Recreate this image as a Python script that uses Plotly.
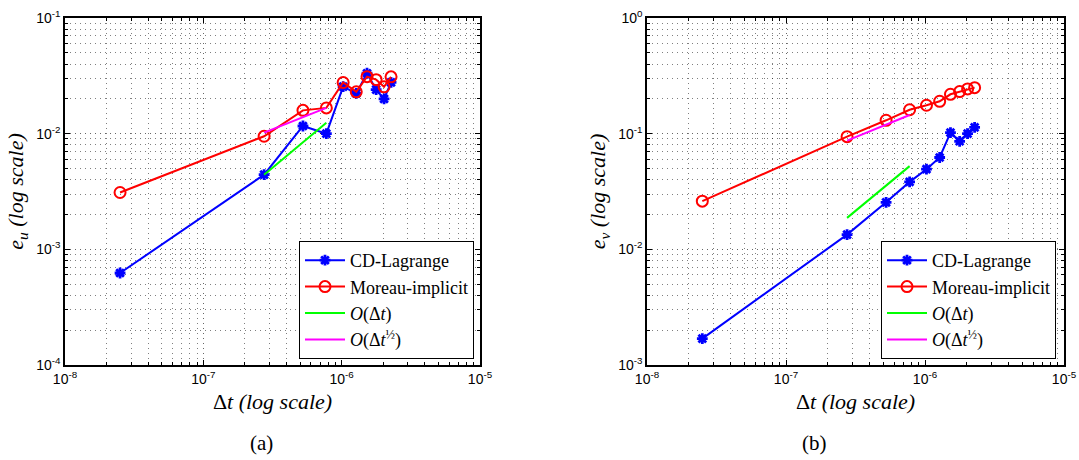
import plotly.graph_objects as go

# ---- data ----
dt = [2.5e-8, 2.75e-7, 5.25e-7, 7.75e-7, 1.025e-6, 1.275e-6, 1.525e-6, 1.775e-6, 2.025e-6, 2.275e-6]

eu_cd = [6.24e-4, 4.42e-3, 1.165e-2, 1.0e-2, 2.55e-2, 2.23e-2, 3.33e-2, 2.40e-2, 2.0e-2, 2.78e-2]
eu_mo = [3.1e-3, 9.5e-3, 1.59e-2, 1.67e-2, 2.77e-2, 2.30e-2, 3.11e-2, 2.93e-2, 2.54e-2, 3.10e-2]

ev_cd = [1.69e-3, 1.34e-2, 2.55e-2, 3.83e-2, 4.93e-2, 6.22e-2, 1.02e-1, 8.59e-2, 1.0e-1, 1.135e-1]
ev_mo = [2.61e-2, 9.42e-2, 1.305e-1, 1.61e-1, 1.76e-1, 1.905e-1, 2.19e-1, 2.31e-1, 2.436e-1, 2.50e-1]

ref_x = [2.75e-7, 7.75e-7]
eu_order1 = [4.42e-3, 1.245e-2]
eu_orderhalf = [1.02e-2, 1.67e-2]
ev_order1 = [1.87e-2, 5.24e-2]
ev_orderhalf = [8.7e-2, 1.45e-1]

x_exps = [-8, -7, -6, -5]
yu_exps = [-4, -3, -2, -1]
yv_exps = [-3, -2, -1, 0]
minor_digits = [2, 3, 4, 5, 6, 7, 8, 9]

names = ["CD-Lagrange", "Moreau-implicit",
         "<i>O</i>(Δ<i>t</i>)", "<i>O</i>(Δ<i>t</i><sup>½</sup>)"]

BLUE, RED, GREEN, MAG = "#0000ff", "#ff0000", "#00ff00", "#ff00ff"
SERIF = "Liberation Serif"

fig = go.Figure()

def add_panel(xa, ya, leg, cd, mo, o1, oh):
    fig.add_trace(go.Scatter(x=dt, y=cd, mode="lines+markers", name=names[0],
                             line=dict(color=BLUE, width=2),
                             marker=dict(symbol="asterisk-open", size=9, color=BLUE,
                                         line=dict(color=BLUE, width=2.8)),
                             xaxis=xa, yaxis=ya, legend=leg))
    fig.add_trace(go.Scatter(x=dt, y=mo, mode="lines+markers", name=names[1],
                             line=dict(color=RED, width=2),
                             marker=dict(symbol="circle-open", size=11, color=RED,
                                         line=dict(color=RED, width=2)),
                             xaxis=xa, yaxis=ya, legend=leg))
    fig.add_trace(go.Scatter(x=ref_x, y=o1, mode="lines", name=names[2],
                             line=dict(color=GREEN, width=2),
                             xaxis=xa, yaxis=ya, legend=leg))
    fig.add_trace(go.Scatter(x=ref_x, y=oh, mode="lines", name=names[3],
                             line=dict(color=MAG, width=2),
                             xaxis=xa, yaxis=ya, legend=leg))

add_panel("x", "y", "legend", eu_cd, eu_mo, eu_order1, eu_orderhalf)
add_panel("x2", "y2", "legend2", ev_cd, ev_mo, ev_order1, ev_orderhalf)

TICKFONT = dict(family="Liberation Sans", size=14, color="black")
TITLEFONT = dict(family=SERIF, size=22, color="black")

def pow_ticks(exps):
    return dict(tickmode="array", tickvals=[10.0 ** e for e in exps],
                ticktext=["10<sup>%d</sup>" % e for e in exps])

def minor_vals(exps):
    return [d * 10.0 ** e for e in exps[:-1] for d in minor_digits]

def axis_common(exps, **kw):
    d = dict(type="log", showline=True, linecolor="black", linewidth=1.5, mirror="ticks",
             ticks="inside", ticklen=5, tickcolor="black", tickwidth=1,
             showgrid=True, gridcolor="rgba(0,0,0,0.6)", griddash="1px,4px", gridwidth=1,
             minor=dict(tickmode="array", tickvals=minor_vals(exps),
                        ticks="inside", ticklen=3, tickcolor="black", showgrid=True,
                        gridcolor="rgba(0,0,0,0.5)", griddash="1px,4px", gridwidth=1),
             tickfont=TICKFONT, zeroline=False, automargin=False)
    d.update(pow_ticks(exps))
    d.update(kw)
    return d

ydom = [1 - 365 / 460, 1 - 18 / 460]
xtitle = dict(text="Δ<i>t</i> <i>(log scale)</i>", font=TITLEFONT, standoff=8)

LEGFONT = dict(family=SERIF, size=18, color="black")

fig.update_layout(
    template="none",
    width=1079, height=460,
    margin=dict(l=0, r=0, t=0, b=0),
    paper_bgcolor="white", plot_bgcolor="white",
    xaxis=axis_common(x_exps, domain=[65 / 1079, 480 / 1079], range=[-8, -5], title=xtitle, anchor="y"),
    yaxis=axis_common(yu_exps, domain=ydom, range=[-4, -1], anchor="x",
                      title=dict(text="<i>e<sub>u</sub></i> <i>(log scale)</i>", font=TITLEFONT, standoff=6)),
    xaxis2=axis_common(x_exps, domain=[647 / 1079, 1064 / 1079], range=[-8, -5], title=xtitle, anchor="y2"),
    yaxis2=axis_common(yv_exps, domain=ydom, range=[-3, 0], anchor="x2",
                       title=dict(text="<i>e<sub>v</sub></i> <i>(log scale)</i>", font=TITLEFONT, standoff=6)),
    legend=dict(x=474 / 1079, y=1 - 359 / 460, xanchor="right", yanchor="bottom",
                bordercolor="black", borderwidth=1, bgcolor="white",
                font=LEGFONT, tracegroupgap=0, itemwidth=40),
    legend2=dict(x=1056 / 1079, y=1 - 359 / 460, xanchor="right", yanchor="bottom",
                 bordercolor="black", borderwidth=1, bgcolor="white",
                 font=LEGFONT, tracegroupgap=0, itemwidth=40),
    showlegend=True,
    annotations=[
        dict(text="(a)", x=248 / 1079, y=1 - 443 / 460, xref="paper", yref="paper",
             yanchor="middle", showarrow=False, font=dict(family=SERIF, size=21, color="black")),
        dict(text="(b)", x=829 / 1079, y=1 - 443 / 460, xref="paper", yref="paper",
             yanchor="middle", showarrow=False, font=dict(family=SERIF, size=21, color="black")),
    ],
)

fig.write_html("out.html", config={"displayModeBar": False},
               post_script="document.body.style.margin='0px';")
